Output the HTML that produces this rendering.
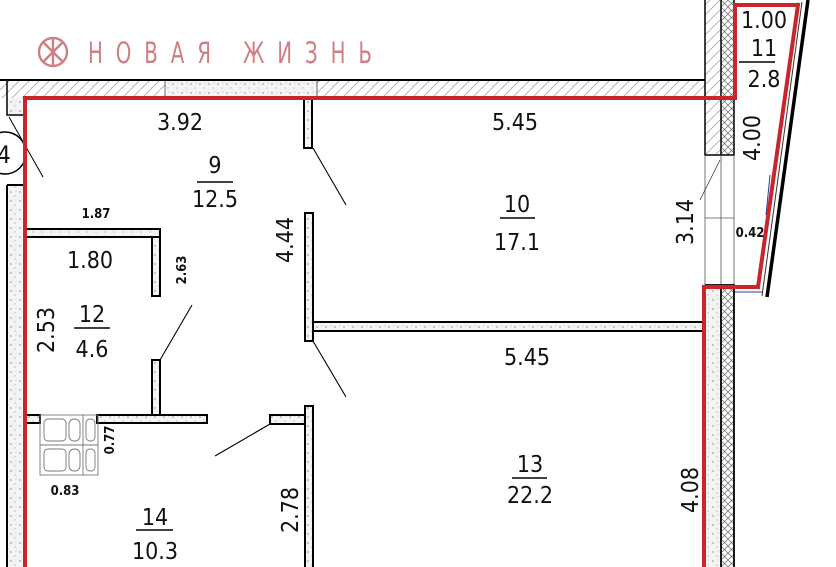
<!DOCTYPE html>
<html><head><meta charset="utf-8"><style>
html,body{margin:0;padding:0;background:#fff;}
svg{display:block;}
text{font-family:"DejaVu Sans Condensed","DejaVu Sans","Liberation Sans",sans-serif;font-stretch:condensed;fill:#111;}
</style></head><body>
<svg width="836" height="567" viewBox="0 0 836 567" xmlns="http://www.w3.org/2000/svg">
<defs>
<pattern id="hat" width="10" height="10" patternUnits="userSpaceOnUse">
<path d="M0 10 L10 0" stroke="#aaa" stroke-width="0.8"/></pattern>
<pattern id="sp" width="9" height="9" patternUnits="userSpaceOnUse">
<rect width="9" height="9" fill="#f4f4f4"/><circle cx="2" cy="3" r="0.6" fill="#555"/><circle cx="6" cy="7" r="0.5" fill="#777"/><circle cx="7" cy="2" r="0.4" fill="#666"/></pattern>
<pattern id="cr" width="7" height="7" patternUnits="userSpaceOnUse">
<path d="M0 0 L7 7 M7 0 L0 7" stroke="#666" stroke-width="0.7"/></pattern>
</defs>

<!-- logo -->
<g stroke="#cf7f84" stroke-width="2.4" fill="none">
<circle cx="53" cy="52" r="14"/>
<path d="M53 38 V66 M44 43 L62 61 M62 43 L44 61"/>
</g>
<g transform="translate(88,63) scale(1,1.35)">
<text x="0" y="0" font-size="22" textLength="284" lengthAdjust="spacing" style="fill:#cf7f84;font-family:'DejaVu Sans Condensed','DejaVu Sans',sans-serif">НОВАЯ ЖИЗНЬ</text>
</g>

<!-- top outer wall -->
<rect x="0" y="80" width="705" height="18" fill="url(#hat)"/>
<rect x="165" y="80" width="152" height="18" fill="url(#sp)"/>
<line x1="0" y1="80" x2="705" y2="80" stroke="#000" stroke-width="2"/>
<line x1="165" y1="80" x2="165" y2="98" stroke="#444" stroke-width="0.8"/>
<line x1="317" y1="80" x2="317" y2="98" stroke="#444" stroke-width="0.8"/>
<!-- right outer wall top -->
<rect x="705" y="0" width="16" height="155" fill="url(#hat)"/>
<rect x="721" y="0" width="13" height="155" fill="url(#cr)"/>
<path d="M705 0 V155 H734 V0 M721 0 V155" stroke="#000" stroke-width="1.5" fill="none"/>
<path d="M705 155 V285 M721 155 V285 M734 155 V285 M705 218 H734" stroke="#555" stroke-width="0.8" fill="none"/>
<line x1="720" y1="160" x2="700" y2="200" stroke="#333" stroke-width="0.8"/>
<!-- right wall bottom -->
<rect x="705" y="285" width="16" height="282" fill="url(#sp)"/>
<rect x="721" y="285" width="13" height="282" fill="url(#cr)"/>
<path d="M705 285 H734 V567 M721 285 V567" stroke="#000" stroke-width="1.8" fill="none"/>
<!-- balcony outer -->
<line x1="808" y1="0" x2="767" y2="297" stroke="#000" stroke-width="3.5"/>
<line x1="802" y1="2" x2="762" y2="296" stroke="#333" stroke-width="1"/>
<line x1="798" y1="2" x2="759" y2="290" stroke="#888" stroke-width="0.8"/>
<path d="M790 70 L782 115 M770 175 L766 215 M735 292 L762 292" stroke="#2a3a9a" stroke-width="1" fill="none"/>

<!-- left wall -->
<rect x="7" y="185" width="18" height="382" fill="url(#sp)"/>
<path d="M7 185 H25 M7 185 V567" stroke="#000" stroke-width="2" fill="none"/>
<rect x="7" y="98" width="18" height="17" fill="url(#sp)"/>
<path d="M7 80 V115 H25" stroke="#000" stroke-width="1.5" fill="none"/>
<circle cx="5" cy="153" r="21" fill="#fff" stroke="#000" stroke-width="1.5"/>
<text x="-3" y="163" font-size="24">4</text>
<line x1="9" y1="117" x2="43" y2="177" stroke="#000" stroke-width="1"/>

<!-- interior walls -->
<g fill="url(#sp)" stroke="#000" stroke-width="2">
<rect x="304" y="98" width="8" height="50"/>
<rect x="305" y="213" width="8" height="128"/>
<rect x="313" y="322" width="390" height="9"/>
<rect x="305" y="406" width="8" height="165"/>
<rect x="270" y="415" width="35" height="9"/>
<rect x="25" y="229" width="135" height="8"/>
<rect x="152" y="237" width="8" height="59"/>
<rect x="152" y="360" width="8" height="55"/>
<rect x="97" y="415" width="110" height="8"/>
<rect x="25" y="415" width="15" height="8"/>
</g>
<g stroke="#000" stroke-width="1.1">
<line x1="313" y1="148" x2="346" y2="205"/>
<line x1="313" y1="341" x2="346" y2="397"/>
<line x1="270" y1="424" x2="215" y2="456"/>
<line x1="160" y1="360" x2="192" y2="305"/>
</g>
<!-- fixture -->
<g stroke="#777" stroke-width="0.9" fill="none">
<rect x="40" y="415" width="58" height="60"/>
<path d="M40 445 H98 M83 415 V475"/>
<rect x="44" y="419" width="22" height="22" rx="4"/><rect x="69" y="419" width="11" height="22" rx="5"/><rect x="86" y="419" width="9" height="22" rx="4"/>
<rect x="44" y="449" width="22" height="22" rx="4"/><rect x="69" y="449" width="11" height="22" rx="5"/><rect x="86" y="449" width="9" height="22" rx="4"/>
</g>

<!-- red contour -->
<path d="M25 567 V98 H735 V5 H798 L758 287 H704 V567" stroke="#c8262b" stroke-width="4" fill="none"/>

<!-- labels -->
<g font-size="23" text-anchor="middle">
<text x="180" y="130">3.92</text>
<text x="215" y="173">9</text>
<text x="215" y="207">12.5</text>
<text x="515" y="130">5.45</text>
<text x="517" y="212">10</text>
<text x="517" y="250">17.1</text>
<text x="90" y="268">1.80</text>
<text x="92" y="322">12</text>
<text x="92" y="357">4.6</text>
<text x="527" y="365">5.45</text>
<text x="530" y="472">13</text>
<text x="530" y="503">22.2</text>
<text x="155" y="525">14</text>
<text x="155" y="559">10.3</text>
<text x="764" y="28">1.00</text>
<text x="764" y="56">11</text>
<text x="764" y="87">2.8</text>
<text transform="translate(293,240) rotate(-90)">4.44</text>
<text transform="translate(54,330) rotate(-90)">2.53</text>
<text transform="translate(698,490) rotate(-90)">4.08</text>
<text transform="translate(298,510) rotate(-90)">2.78</text>
<text transform="translate(693,222) rotate(-90)">3.14</text>
<text transform="translate(760,138) rotate(-90)">4.00</text>
</g>
<g stroke="#000" stroke-width="1.5">
<line x1="197" y1="182" x2="233" y2="182"/>
<line x1="500" y1="218" x2="535" y2="218"/>
<line x1="74" y1="328" x2="110" y2="328"/>
<line x1="512" y1="478" x2="547" y2="478"/>
<line x1="136" y1="530" x2="173" y2="530"/>
<line x1="739" y1="62" x2="775" y2="62"/>
</g>
<g font-size="13" text-anchor="middle" font-weight="bold">
<text x="96" y="218">1.87</text>
<text x="65" y="495">0.83</text>
<text x="750" y="237">0.42</text>
<text transform="translate(186,270) rotate(-90)">2.63</text>
<text transform="translate(114,440) rotate(-90)">0.77</text>
</g>
</svg>
</body></html>
